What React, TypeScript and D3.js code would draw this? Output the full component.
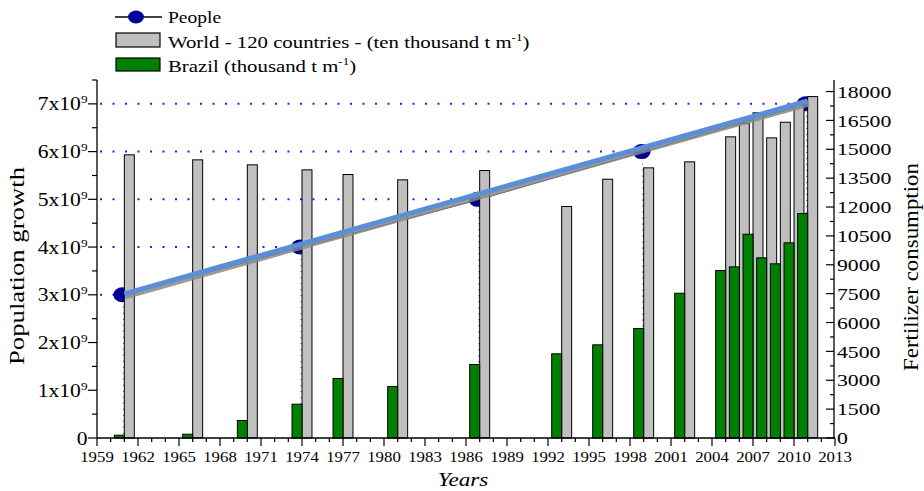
import React from "react";
import * as d3 from "d3";

const barYears = [1961, 1966, 1970, 1974, 1977, 1981, 1987, 1993, 1996, 1999, 2002, 2005, 2006, 2007, 2008, 2009, 2010, 2011];
const worldValues = [14712, 14452, 14192, 13932, 13688, 13413, 13896, 12026, 13444, 14036, 14348, 15647, 16338, 16894, 15595, 16405, 17273, 17740];
const brazilValues = [145, 197, 909, 1756, 3091, 2675, 3818, 4374, 4841, 5688, 7522, 8701, 8892, 10587, 9361, 9049, 10140, 11662];
const peopleYears = [1961, 1974, 1987, 1999, 2011];
const peopleValues = [3e9, 4e9, 5e9, 6e9, 7e9];
const fitYears = [1961, 2011];
const fitValues = [3.02e9, 7.06e9];
const leftTicks = [0, 1, 2, 3, 4, 5, 6, 7];
const rightTicks = [0, 1500, 3000, 4500, 6000, 7500, 9000, 10500, 12000, 13500, 15000, 16500, 18000];
const xTicks = [1959, 1962, 1965, 1968, 1971, 1974, 1977, 1980, 1983, 1986, 1989, 1992, 1995, 1998, 2001, 2004, 2007, 2010, 2013];

const FONT = "'Liberation Serif', 'Times New Roman', serif";
const SX = 1.2;

export default function App() {
  const W = 924, H = 491;
  const left = 97, right = 835, top = 80, bottom = 438;
  const x = d3.scaleLinear().domain([1959, 2013]).range([left, right]);
  const yL = d3.scaleLinear().domain([0, 7.5e9]).range([bottom, top]);
  const yR = d3.scaleLinear().domain([0, 18600]).range([bottom, top]);
  const bw = x(1959.73) - x(1959);

  const minorX = d3.range(1959, 2014, 1);
  const minorL = d3.range(0, 7.5e9 + 1, 0.5e9);
  const minorR = d3.range(0, 18600, 750);

  const fitLine = d3.line<number>().x((d, i) => x(fitYears[i])).y((d) => yL(d));
  const peopleLine = d3.line<number>().x((d, i) => x(peopleYears[i])).y((d) => yL(d));

  return (
    <svg width={W} height={H} style={{ position: "absolute", left: 0, top: 0, background: "#fff", fontFamily: FONT }}>
      {/* horizontal dotted guides */}
      {peopleValues.map((v, i) => (
        <line key={"h" + i} x1={left + 3} x2={x(peopleYears[i])} y1={yL(v)} y2={yL(v)} stroke="#2020ff" strokeWidth={2} strokeDasharray="2 10.5" />
      ))}
      {/* vertical drop lines */}
      {peopleValues.map((v, i) => (
        <line key={"v" + i} x1={x(peopleYears[i]) - 1} x2={x(peopleYears[i]) - 1} y1={yL(v)} y2={bottom} stroke="#3030ff" strokeWidth={1} strokeDasharray="1 5" />
      ))}
      {/* people markers */}
      {peopleValues.map((v, i) => (
        <ellipse key={"c" + i} cx={x(peopleYears[i]) - 2} cy={yL(v)} rx={9} ry={7.5} fill="#000099" />
      ))}
      <path d={peopleLine(peopleValues) || ""} fill="none" stroke="#222" strokeWidth={1} />
      {/* gray bars */}
      {worldValues.map((v, i) => (
        <rect key={"g" + i} x={x(barYears[i])} y={yR(v)} width={bw} height={bottom - yR(v)} fill="#c0c0c0" stroke="#000" strokeWidth={1} />
      ))}
      {/* green bars */}
      {brazilValues.map((v, i) => (
        <rect key={"b" + i} x={x(barYears[i]) - bw} y={yR(v)} width={bw} height={bottom - yR(v)} fill="#008000" stroke="#000" strokeWidth={1} />
      ))}
      {/* regression line with shadow */}
      <g transform="translate(1,3)">
        <path d={fitLine(fitValues) || ""} fill="none" stroke="#8a8a8a" strokeWidth={5} opacity={0.85} />
      </g>
      <path d={fitLine(fitValues) || ""} fill="none" stroke="#5a8fd8" strokeWidth={5} />

      {/* left axis */}
      <line x1={left} x2={left} y1={top} y2={bottom} stroke="#000" strokeWidth={1.3} />
      {minorL.map((v, i) => (
        <line key={"ml" + i} x1={left - (i % 2 === 0 ? 9 : 5)} x2={left} y1={yL(v)} y2={yL(v)} stroke="#000" strokeWidth={1.2} />
      ))}
      {leftTicks.map((t) => (
        <g key={"lt" + t} transform={`translate(87.5,${yL(t * 1e9) + 6.5}) scale(${SX},1)`}>
          <text textAnchor="end" fontSize={18} fill="#000">
            {t === 0 ? "0" : (
              <>
                {t + "x10"}
                <tspan dy={-7} fontSize={11}>9</tspan>
              </>
            )}
          </text>
        </g>
      ))}

      {/* right axis */}
      <line x1={right - 1} x2={right - 1} y1={top} y2={bottom} stroke="#000" strokeWidth={1.3} />
      {minorR.map((v, i) => (
        <line key={"mr" + i} x1={right - 1 - (i % 2 === 0 ? 8 : 4)} x2={right - 1} y1={yR(v)} y2={yR(v)} stroke="#000" strokeWidth={1.2} />
      ))}
      {rightTicks.map((t) => (
        <g key={"rt" + t} transform={`translate(837,${yR(t) + 6.2}) scale(1.28,1)`}>
          <text textAnchor="start" fontSize={17} fill="#000">{t}</text>
        </g>
      ))}

      {/* x axis */}
      <line x1={left} x2={right} y1={bottom} y2={bottom} stroke="#000" strokeWidth={1.3} />
      {minorX.map((yr) => (
        <line key={"mx" + yr} x1={x(yr)} x2={x(yr)} y1={bottom} y2={bottom + ((yr - 1959) % 3 === 0 ? 8 : 4)} stroke="#000" strokeWidth={1.2} />
      ))}
      {xTicks.map((t) => (
        <g key={"xt" + t} transform={`translate(${x(t)},461.5) scale(${SX},1)`}>
          <text textAnchor="middle" fontSize={14} fill="#000">{t}</text>
        </g>
      ))}

      {/* axis titles */}
      <g transform="translate(463,486) scale(1.22,1)">
        <text textAnchor="middle" fontSize={19} fontStyle="italic" fill="#000">Years</text>
      </g>
      <text transform="translate(24,266) rotate(-90)" textAnchor="middle" fontSize={20} textLength={198} lengthAdjust="spacingAndGlyphs" fill="#000">Population growth</text>
      <text transform="translate(918,267) rotate(-90)" textAnchor="middle" fontSize={20.5} textLength={208} lengthAdjust="spacingAndGlyphs" fill="#000">Fertilizer consumption</text>

      {/* legend */}
      <line x1={115} x2={162} y1={17} y2={17} stroke="#000" strokeWidth={1.5} />
      <ellipse cx={136} cy={17} rx={8} ry={6.5} fill="#000099" />
      <g transform="translate(168,23) scale(1.22,1)">
        <text fontSize={16} fill="#000">People</text>
      </g>
      <rect x={116} y={33} width={44} height={14} fill="#c0c0c0" stroke="#000" strokeWidth={1.2} />
      <g transform="translate(168,47.5) scale(1.3,1)">
        <text fontSize={16} fill="#000">
          World - 120 countries - (ten thousand t m
          <tspan dy={-7} fontSize={10}>-1</tspan>
          <tspan dy={7}>)</tspan>
        </text>
      </g>
      <rect x={116} y={58} width={44} height={13} fill="#008000" stroke="#000" strokeWidth={1.2} />
      <g transform="translate(168,72) scale(1.3,1)">
        <text fontSize={16} fill="#000">
          Brazil (thousand t m
          <tspan dy={-7} fontSize={10}>-1</tspan>
          <tspan dy={7}>)</tspan>
        </text>
      </g>
    </svg>
  );
}
